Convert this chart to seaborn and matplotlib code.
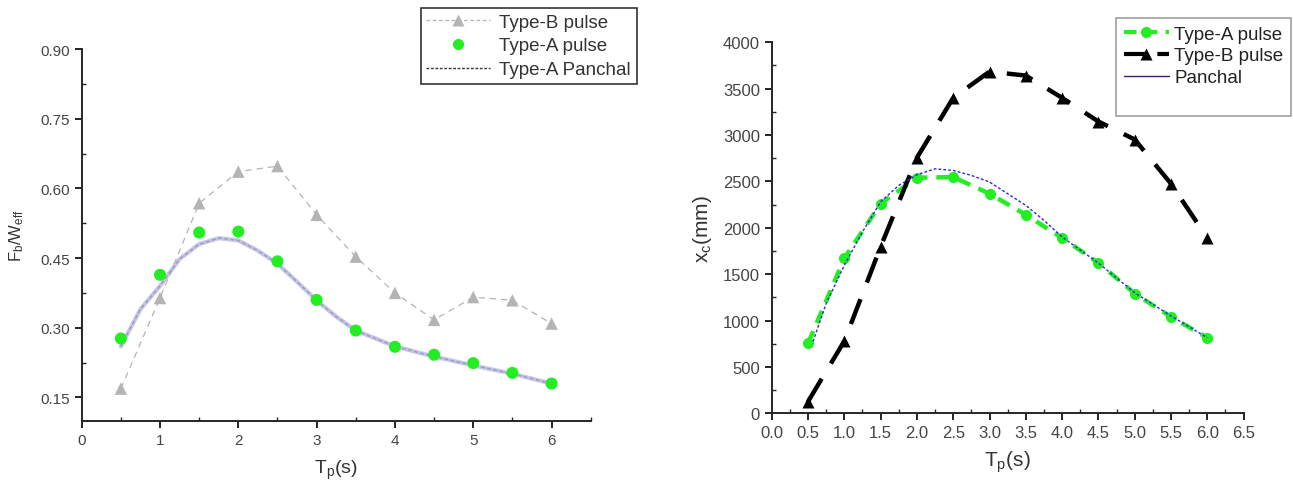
import numpy as np
import pandas as pd
import matplotlib
matplotlib.use("Agg")
import matplotlib.pyplot as plt
import seaborn as sns
from matplotlib.ticker import MultipleLocator
from matplotlib.lines import Line2D

# ---------------- data ----------------
tp = [0.5, 1.0, 1.5, 2.0, 2.5, 3.0, 3.5, 4.0, 4.5, 5.0, 5.5, 6.0]

# left panel: Fb/Weff
left_typeB = [0.169, 0.364, 0.568, 0.636, 0.648, 0.543, 0.453, 0.375, 0.317, 0.366, 0.359, 0.309]
left_typeA = [0.277, 0.414, 0.505, 0.507, 0.443, 0.360, 0.294, 0.259, 0.242, 0.224, 0.203, 0.180]
left_panchal_t = [0.5, 0.75, 1.0, 1.25, 1.5, 1.75, 2.0, 2.25, 2.5, 2.75, 3.0, 3.25, 3.5, 4.0, 4.5, 5.0, 5.5, 6.0]
left_panchal = [0.26, 0.34, 0.39, 0.448, 0.48, 0.493, 0.488, 0.466, 0.438, 0.399, 0.359, 0.324, 0.294,
                0.26, 0.238, 0.219, 0.201, 0.18]

# right panel: xc (mm)
right_typeA = [753, 1670, 2260, 2540, 2547, 2368, 2141, 1890, 1622, 1291, 1040, 815]
right_typeB = [126, 778, 1794, 2755, 3401, 3684, 3641, 3401, 3146, 2952, 2475, 1890]
right_panchal_t = [0.57, 0.75, 1.0, 1.25, 1.5, 1.75, 2.0, 2.25, 2.5, 2.75, 3.0, 3.25, 3.5, 3.75, 4.0,
                   4.5, 5.0, 5.5, 6.0]
right_panchal = [775, 1183, 1596, 1955, 2280, 2457, 2572, 2636, 2618, 2565, 2494, 2368, 2242, 2080, 1901,
                 1620, 1300, 1050, 815]

left_ticks_x = [0, 1, 2, 3, 4, 5, 6]
left_ticks_y = [0.15, 0.30, 0.45, 0.60, 0.75, 0.90]
right_ticks_x = [0.0, 0.5, 1.0, 1.5, 2.0, 2.5, 3.0, 3.5, 4.0, 4.5, 5.0, 5.5, 6.0, 6.5]
right_ticks_y = [0, 500, 1000, 1500, 2000, 2500, 3000, 3500, 4000]

# ---------------- style ----------------
sns.set_style("ticks")
plt.rcParams['font.family'] = ['Liberation Sans', 'DejaVu Sans']
plt.rcParams['mathtext.default'] = 'regular'

W, H = 1293, 485
fig = plt.figure(figsize=(W / 100, H / 100), dpi=100)

def fpos(x0, y0, x1, y1):
    return [x0 / W, 1 - y1 / H, (x1 - x0) / W, (y1 - y0) / H]

axL = fig.add_axes(fpos(81.7, 50, 590.7, 421.7))
axR = fig.add_axes(fpos(771.7, 43.3, 1243.6, 414.3))

# ---------------- left panel ----------------
dfB = pd.DataFrame({"Tp": tp, "v": left_typeB})
dfA = pd.DataFrame({"Tp": tp, "v": left_typeA})
dfP = pd.DataFrame({"Tp": left_panchal_t, "v": left_panchal})

sns.lineplot(data=dfP, x="Tp", y="v", ax=axL, color="#c4c4ec", lw=3.0, legend=False, zorder=2)
sns.lineplot(data=dfP, x="Tp", y="v", ax=axL, color="#9a9aa8", lw=0.9, ls=(0, (3, 2)), legend=False, zorder=3)
sns.lineplot(data=dfB, x="Tp", y="v", ax=axL, color="#b4b4b4", lw=0.9, ls=(0, (5, 4)), legend=False, zorder=2)
sns.scatterplot(data=dfB, x="Tp", y="v", ax=axL, marker="^", s=80, color="#b4b4b4", edgecolor="none", zorder=4)
sns.scatterplot(data=dfA, x="Tp", y="v", ax=axL, marker="o", s=75, color="#22ee22", edgecolor="none", zorder=5)

axL.set_xlim(0, 6.5)
axL.set_ylim(0.10, 0.90)
axL.set_xticks(left_ticks_x)
axL.set_yticks(left_ticks_y)
axL.set_xticklabels([str(t) for t in left_ticks_x])
axL.set_yticklabels([f"{t:.2f}" for t in left_ticks_y])
axL.xaxis.set_minor_locator(MultipleLocator(0.5))
axL.yaxis.set_minor_locator(MultipleLocator(0.075))
axL.tick_params(axis="both", which="major", direction="out", length=5, width=1.2,
                labelsize=11, labelcolor="#444444", color="black")
axL.tick_params(axis="both", which="minor", direction="in", length=3, width=1.0)
for s in ["top", "right"]:
    axL.spines[s].set_visible(False)
for s in ["left", "bottom"]:
    axL.spines[s].set_linewidth(1.4)
axL.set_xlabel("T$_p$(s)", fontsize=14, color="#333333", labelpad=8)
axL.set_ylabel("F$_b$/W$_{eff}$", fontsize=12, color="#333333", labelpad=10)

hL = [Line2D([], [], color="#b4b4b4", ls=(0, (3, 2)), lw=0.9, marker="^", ms=8, mec="none"),
      Line2D([], [], color="none", marker="o", ms=8, mfc="#22ee22", mec="none"),
      Line2D([], [], color="#333333", ls=(0, (2, 1.2)), lw=1.0)]
legL = fig.legend(hL, ["Type-B pulse", "Type-A pulse", "Type-A Panchal"],
                  loc="upper left", bbox_to_anchor=(420.7 / W, 1 - 9 / H),
                  frameon=True, fancybox=False, fontsize=13.5, handlelength=3.4,
                  borderpad=0.3, labelspacing=0.35, handletextpad=0.5, borderaxespad=0)
legL.get_frame().set_edgecolor("black")
legL.get_frame().set_linewidth(1.2)
for t in legL.get_texts():
    t.set_color("#333333")

# ---------------- right panel ----------------
rA = pd.DataFrame({"Tp": tp, "v": right_typeA})
rB = pd.DataFrame({"Tp": tp, "v": right_typeB})
rP = pd.DataFrame({"Tp": right_panchal_t, "v": right_panchal})

sns.lineplot(data=rP, x="Tp", y="v", ax=axR, color="#2a2ae0", lw=1.0, ls=(0, (2, 1.5)), legend=False, zorder=4)
sns.lineplot(data=rA, x="Tp", y="v", ax=axR, color="#22ee22", lw=3.2, ls=(0, (3, 2)),
             marker="o", markersize=8, markeredgecolor="none", legend=False, zorder=3)
sns.lineplot(data=rB, x="Tp", y="v", ax=axR, color="black", lw=3.2, ls=(0, (6, 4)),
             marker="^", markersize=8, markeredgecolor="none", legend=False, zorder=3)

axR.set_xlim(0, 6.5)
axR.set_ylim(0, 4000)
axR.set_xticks(right_ticks_x)
axR.set_yticks(right_ticks_y)
axR.set_xticklabels([f"{t:.1f}" for t in right_ticks_x])
axR.set_yticklabels([str(t) for t in right_ticks_y])
axR.xaxis.set_minor_locator(MultipleLocator(0.25))
axR.yaxis.set_minor_locator(MultipleLocator(250))
axR.tick_params(axis="both", which="major", direction="out", length=5, width=1.2,
                labelsize=12, labelcolor="#444444", color="black")
axR.tick_params(axis="both", which="minor", direction="in", length=3, width=1.0)
for s in ["top", "right"]:
    axR.spines[s].set_visible(False)
for s in ["left", "bottom"]:
    axR.spines[s].set_linewidth(1.4)
axR.set_xlabel("T$_p$(s)", fontsize=15, color="#333333", labelpad=6)
axR.set_ylabel("x$_c$(mm)", fontsize=15, color="#333333", labelpad=6)

hR = [Line2D([], [], color="#22ee22", ls=(0, (3, 2)), lw=3.0, marker="o", ms=8, mec="none"),
      Line2D([], [], color="black", ls=(0, (5, 3)), lw=3.0, marker="^", ms=8, mec="none"),
      Line2D([], [], color="#3a1a6a", lw=1.0),
      Line2D([], [], color="none")]
legR = fig.legend(hR, ["Type-A pulse", "Type-B pulse", "Panchal", " "],
                  loc="upper left", bbox_to_anchor=(1116 / W, 1 - 19 / H),
                  frameon=True, fancybox=False, fontsize=13.5, handlelength=2.4,
                  borderpad=0.4, labelspacing=0.25, handletextpad=0.3, borderaxespad=0)
legR.get_frame().set_edgecolor("#888888")
legR.get_frame().set_linewidth(1.2)
for t in legR.get_texts():
    t.set_color("#222222")

fig.savefig("out.png", dpi=100, facecolor="white")
